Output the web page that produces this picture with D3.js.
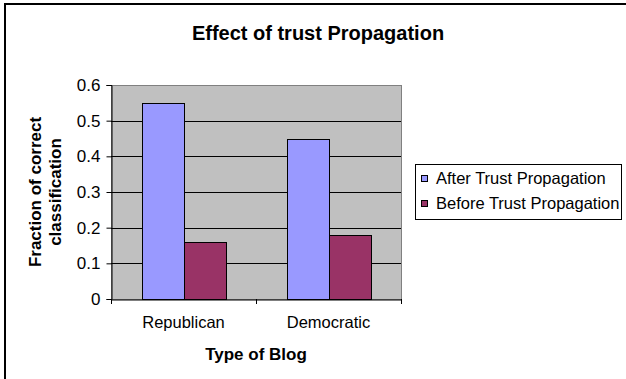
<!DOCTYPE html>
<html>
<head>
<meta charset="utf-8">
<script src="https://d3js.org/d3.v7.min.js"></script>
<style>
  body { margin: 0; background: #fff; }
  text { font-family: "Liberation Sans", Arial, sans-serif; }
</style>
</head>
<body>
<div id="chart"></div>
<script>
// data
var categories = ["Republican", "Democratic"];
var seriesNames = ["After Trust Propagation", "Before Trust Propagation"];
var afterValues = [0.55, 0.45];
var beforeValues = [0.16, 0.18];
var yTicks = [0, 0.1, 0.2, 0.3, 0.4, 0.5, 0.6];
var colors = ["#9999FF", "#993366"];

var W = 626, H = 379;
var svg = d3.select("#chart").append("svg")
  .attr("width", W).attr("height", H);

// outer frame (only left/top visible in reference)
svg.append("rect")
  .attr("x", 5).attr("y", 4)
  .attr("width", W + 10).attr("height", H + 10)
  .attr("fill", "#fff").attr("stroke", "#000").attr("stroke-width", 2);

var pLeft = 111, pRight = 401, pTop = 85, pBottom = 299;

var x = d3.scaleBand().domain(categories).range([pLeft, pRight]).padding(0);
var xs = d3.scaleBand().domain(seriesNames).range([0, x.bandwidth()])
  .paddingInner(0).paddingOuter(0.74);
var y = d3.scaleLinear().domain([0, 0.6]).range([pBottom, pTop]);

// plot area
svg.append("rect")
  .attr("x", pLeft + 0.5).attr("y", pTop + 0.5)
  .attr("width", pRight - pLeft).attr("height", pBottom - pTop)
  .attr("fill", "#C0C0C0").attr("stroke", "#808080").attr("stroke-width", 1);

// gridlines
svg.append("g").selectAll("line")
  .data(yTicks.slice(1, -1))
  .join("line")
  .attr("x1", pLeft).attr("x2", pRight)
  .attr("y1", d => Math.round(y(d)) + 0.5).attr("y2", d => Math.round(y(d)) + 0.5)
  .attr("stroke", "#000");

// bars
var rows = categories.map((c, i) => ({ cat: c, vals: [afterValues[i], beforeValues[i]] }));
var groups = svg.append("g").selectAll("g")
  .data(rows).join("g")
  .attr("transform", d => "translate(" + x(d.cat) + ",0)");
groups.selectAll("rect")
  .data(d => d.vals.map((v, i) => ({ s: seriesNames[i], v: v, i: i })))
  .join("rect")
  .attr("x", d => Math.round(xs(d.s)) + 0.5)
  .attr("y", d => Math.round(y(d.v)) + 0.5)
  .attr("width", Math.round(xs.bandwidth()))
  .attr("height", d => Math.round(y(0)) - Math.round(y(d.v)))
  .attr("fill", d => colors[d.i])
  .attr("stroke", "#000").attr("stroke-width", 1);

// y axis
var yAxis = svg.append("g")
  .attr("transform", "translate(" + (pLeft + 0.5) + ",0)")
  .call(d3.axisLeft(y).tickValues(yTicks).tickSize(5).tickPadding(6)
    .tickFormat(d => d === 0 ? "0" : d3.format(".1f")(d)));
yAxis.select(".domain").attr("stroke", "#000");
yAxis.selectAll("text").attr("font-size", 17).attr("fill", "#000")
  .attr("font-family", "Liberation Sans, Arial, sans-serif");

// x axis
var xAxis = svg.append("g")
  .attr("transform", "translate(0," + (pBottom + 0.5) + ")")
  .call(d3.axisBottom(x).tickSize(0).tickPadding(17));
xAxis.select(".domain").attr("stroke", "#000");
xAxis.selectAll("text").attr("font-size", 16.5).attr("fill", "#000")
  .attr("font-family", "Liberation Sans, Arial, sans-serif");
// category divider ticks
svg.append("g").selectAll("line")
  .data([pLeft, x(categories[1]), pRight])
  .join("line")
  .attr("x1", d => d + 0.5).attr("x2", d => d + 0.5)
  .attr("y1", pBottom).attr("y2", pBottom + 5)
  .attr("stroke", "#000");

// title
svg.append("text")
  .attr("x", 318).attr("y", 40)
  .attr("text-anchor", "middle")
  .attr("font-size", 20).attr("font-weight", "bold")
  .text("Effect of trust Propagation");

// axis titles
svg.append("text")
  .attr("x", (pLeft + pRight) / 2).attr("y", 360)
  .attr("text-anchor", "middle")
  .attr("font-size", 17).attr("font-weight", "bold")
  .text("Type of Blog");

var yTitle = svg.append("text")
  .attr("transform", "translate(41," + (pTop + pBottom) / 2 + ") rotate(-90)")
  .attr("text-anchor", "middle")
  .attr("font-size", 17).attr("font-weight", "bold");
yTitle.append("tspan").attr("x", 0).attr("dy", 0).text("Fraction of correct");
yTitle.append("tspan").attr("x", 0).attr("dy", 20).text("classification");

// legend
var lg = svg.append("g").attr("transform", "translate(415,164)");
lg.append("rect")
  .attr("x", 0.5).attr("y", 0.5).attr("width", 206).attr("height", 55)
  .attr("fill", "#fff").attr("stroke", "#000");
var items = lg.selectAll("g.item")
  .data(seriesNames).join("g")
  .attr("class", "item")
  .attr("transform", (d, i) => "translate(0," + (i * 25) + ")");
items.append("rect")
  .attr("x", 6.5).attr("y", 11.5).attr("width", 6).attr("height", 6)
  .attr("fill", (d, i) => colors[i]).attr("stroke", "#000");
items.append("text")
  .attr("x", 21).attr("y", 20)
  .attr("font-size", 16.5)
  .text(d => d);
</script>
</body>
</html>
